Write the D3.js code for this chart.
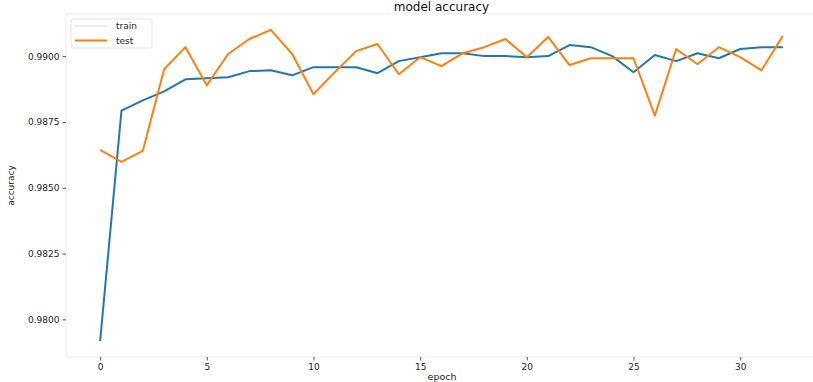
<!DOCTYPE html>
<html>
<head>
<meta charset="utf-8">
<script src="https://cdn.jsdelivr.net/npm/d3@7"></script>
<style>
  html, body { margin: 0; padding: 0; background: #fff; }
  svg text { font-family: "DejaVu Sans", sans-serif; }
</style>
</head>
<body>
<svg id="chart" width="813" height="382"></svg>
<script>
// Training history: accuracy per epoch
const epochs = d3.range(0, 33);
const trainAcc = [
  0.97917, 0.98793, 0.98832, 0.98866, 0.98912, 0.98916, 0.98920, 0.98943,
  0.98946, 0.98927, 0.98958, 0.98958, 0.98958, 0.98935, 0.98981, 0.98996,
  0.99011, 0.99011, 0.99000, 0.99000, 0.98996, 0.99000, 0.99042, 0.99034,
  0.99000, 0.98939, 0.99004, 0.98981, 0.99011, 0.98992, 0.99027, 0.99034,
  0.99034
];
const testAcc = [
  0.98644, 0.98598, 0.98640, 0.98950, 0.99034, 0.98889, 0.99008, 0.99065,
  0.99100, 0.99008, 0.98855, 0.98939, 0.99019, 0.99046, 0.98931, 0.98996,
  0.98962, 0.99011, 0.99034, 0.99065, 0.98996, 0.99073, 0.98966, 0.98992,
  0.98992, 0.98992, 0.98774, 0.99027, 0.98969, 0.99034, 0.98996, 0.98946,
  0.99077
];
const xTicks = [0, 5, 10, 15, 20, 25, 30];
const yTicks = [0.9800, 0.9825, 0.9850, 0.9875, 0.9900];
const seriesNames = ["train", "test"];
const colors = ["#1f77b4", "#ff7f0e"];

const svg = d3.select("#chart");
const m = { left: 66, top: 14, right: 817, bottom: 357 };

const x = d3.scaleLinear().domain([-1.6, 33.6]).range([m.left, m.right]);
const y = d3.scaleLinear().domain([0.97857, 0.99160]).range([m.bottom, m.top]);

// axes frame
svg.append("rect")
  .attr("x", m.left).attr("y", m.top)
  .attr("width", m.right - m.left).attr("height", m.bottom - m.top)
  .attr("fill", "none").attr("stroke", "#ececec").attr("stroke-width", 1);

// x axis
const xAxis = svg.append("g")
  .attr("transform", `translate(0,${m.bottom})`)
  .call(d3.axisBottom(x).tickValues(xTicks).tickSize(3.5).tickPadding(3).tickFormat(d3.format("d")));
xAxis.select(".domain").remove();
xAxis.selectAll(".tick line").attr("stroke", "#555");
xAxis.selectAll("text").attr("font-size", 9).attr("fill", "#222");

// y axis
const yAxis = svg.append("g")
  .attr("transform", `translate(${m.left},0)`)
  .call(d3.axisLeft(y).tickValues(yTicks).tickSize(3.5).tickPadding(3).tickFormat(d3.format(".4f")));
yAxis.select(".domain").remove();
yAxis.selectAll(".tick line").attr("stroke", "#555");
yAxis.selectAll("text").attr("font-size", 9).attr("fill", "#222");

// lines
const line = d3.line().x((d, i) => x(epochs[i])).y(d => y(d));
[trainAcc, testAcc].forEach((s, k) => {
  svg.append("path")
    .datum(s)
    .attr("d", line)
    .attr("fill", "none")
    .attr("stroke", colors[k])
    .attr("stroke-width", 2)
    .attr("stroke-linejoin", "round");
});

// title and axis labels
svg.append("text")
  .attr("x", (m.left + m.right) / 2).attr("y", 11)
  .attr("text-anchor", "middle").attr("font-size", 12).attr("fill", "#111")
  .text("model accuracy");
svg.append("text")
  .attr("x", 442).attr("y", 380)
  .attr("text-anchor", "middle").attr("font-size", 9.5).attr("fill", "#222")
  .text("epoch");
svg.append("text")
  .attr("transform", `translate(14,${(m.top + m.bottom) / 2}) rotate(-90)`)
  .attr("text-anchor", "middle").attr("font-size", 9).attr("fill", "#222")
  .text("accuracy");

// legend
const lg = svg.append("g").attr("transform", "translate(71,19)");
lg.append("rect")
  .attr("width", 81).attr("height", 29).attr("rx", 2)
  .attr("fill", "#fff").attr("stroke", "#e2e2e2");
seriesNames.forEach((name, k) => {
  const yy = 7 + k * 14.5;
  lg.append("line")
    .attr("x1", 4).attr("x2", 36).attr("y1", yy).attr("y2", yy)
    .attr("stroke", colors[k]).attr("stroke-width", 2)
    .attr("stroke-opacity", k === 0 ? 0.12 : 1);
  lg.append("text")
    .attr("x", 45).attr("y", yy + 3)
    .attr("font-size", 9).attr("fill", "#222")
    .text(name);
});
</script>
</body>
</html>
